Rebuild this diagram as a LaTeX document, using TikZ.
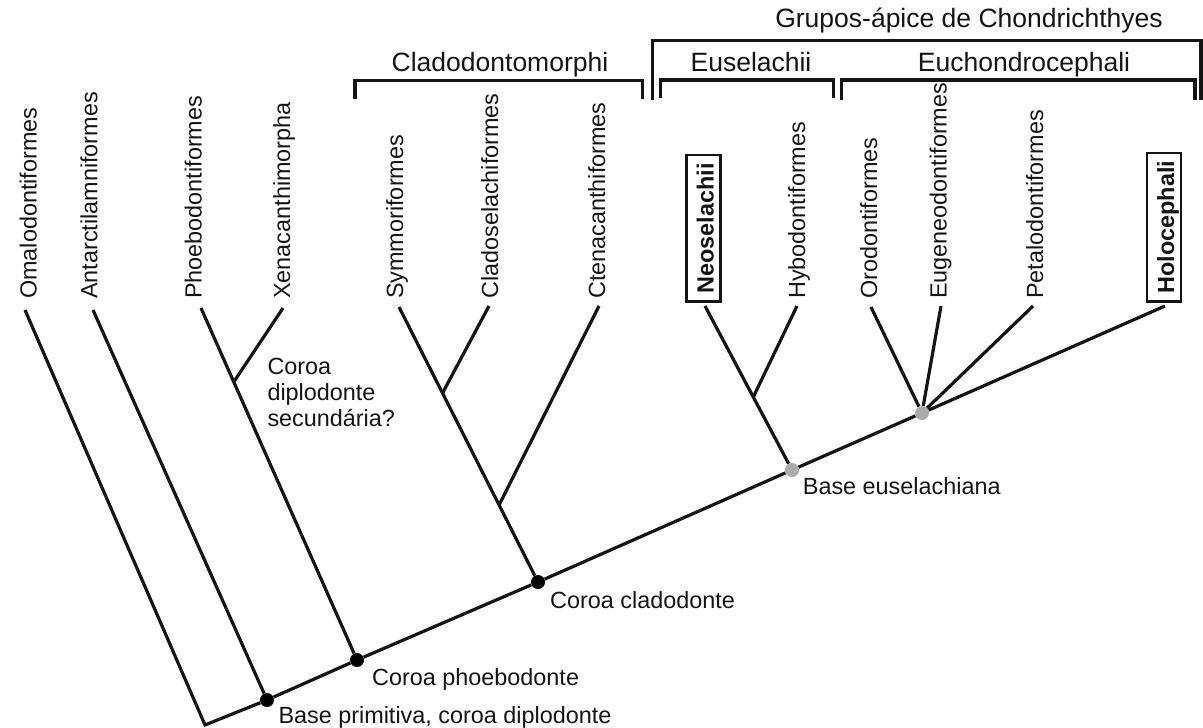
\documentclass[tikz,border=0pt]{standalone}
\usepackage{fontspec}
\setmainfont{Liberation Sans}
\usetikzlibrary{calc}
\definecolor{dotgray}{RGB}{170,170,170}
\definecolor{ink}{RGB}{20,20,20}
\begin{document}
\begin{tikzpicture}[x=1pt,y=-1pt,
  branch/.style={draw=ink, line width=3.2pt, line join=miter},
  brk/.style={draw=ink, line width=3.2pt, line join=miter},
  taxon/.style={rotate=90, anchor=base west, inner sep=0pt, text=ink, font=\fontsize{23.4}{26}\selectfont},
  boxtaxon/.style={rotate=90, anchor=base west, draw=ink, text=ink, line width=2.3pt, inner xsep=8pt, inner ysep=0pt, text height=27pt, text depth=7pt, font=\fontsize{23.4}{26}\selectfont\bfseries},
  note/.style={anchor=base west, inner sep=0pt, text=ink, font=\fontsize{23.4}{26}\selectfont},
  grp/.style={anchor=base, inner sep=0pt, text=ink, font=\fontsize{26.5}{30}\selectfont},
  bdot/.style={circle, fill=black, minimum size=14pt, inner sep=0pt},
  gdot/.style={circle, fill=dotgray, minimum size=14pt, inner sep=0pt}]
\useasboundingbox (0,0) rectangle (1203,728);

% tree vertices
\coordinate (root) at (205,725);
\node[bdot] (bp) at (267,700) {};
\node[bdot] (cp) at (357,660) {};
\node[bdot] (cc) at (538,582) {};
\node[gdot] (eu) at (792,470) {};
\node[gdot] (gr) at (922,413) {};

% branch tips
\coordinate (tOm) at (25,310);
\coordinate (tAn) at (93,310);
\coordinate (tPh) at (201,308);
\coordinate (tXe) at (283,308);
\coordinate (tSy) at (399,307);
\coordinate (tCl) at (489,306);
\coordinate (tCt) at (599,306);
\coordinate (tNe) at (705,306);
\coordinate (tHy) at (797,306);
\coordinate (tOr) at (871,307);
\coordinate (tEg) at (941,306);
\coordinate (tPe) at (1033,306);
\coordinate (tHo) at (1165,306);

% internal junctions
\coordinate (jX) at ($(tPh)!0.21!(cp)$);
\coordinate (jCt) at ($(cc)!0.28!(tSy)$);
\coordinate (jCl) at ($(cc)!0.687!(tSy)$);
\coordinate (jHy) at ($(eu)!0.445!(tNe)$);

% branches
\draw[branch] (tOm) -- (root) -- (bp) -- (cp) -- (cc) -- (eu) -- (gr) -- (tHo);
\draw[branch] (bp) -- (tAn);
\draw[branch] (cp) -- (tPh);
\draw[branch] (jX) -- (tXe);
\draw[branch] (cc) -- (tSy);
\draw[branch] (jCl) -- (tCl);
\draw[branch] (jCt) -- (tCt);
\draw[branch] (eu) -- (tNe);
\draw[branch] (jHy) -- (tHy);
\draw[branch] (gr) -- (tOr);
\draw[branch] (gr) -- (tEg);
\draw[branch] (gr) -- (tPe);

% taxon labels
\node[taxon] (lOm) at (36.7,299) {Omalodontiformes};
\node[taxon] (lAn) at (97.3,299) {Antarctilamniformes};
\node[taxon] (lPh) at (201.7,299) {Phoebodontiformes};
\node[taxon] (lXe) at (290,299) {Xenacanthimorpha};
\node[taxon] (lSy) at (403,299) {Symmoriformes};
\node[taxon] (lCl) at (498,299) {Cladoselachiformes};
\node[taxon] (lCt) at (605,299) {Ctenacanthiformes};
\node[boxtaxon] (lNe) at (713.5,302.5) {Neoselachii};
\node[taxon] (lHy) at (805,299) {Hybodontiformes};
\node[taxon] (lOr) at (877,299) {Orodontiformes};
\node[taxon] (lEg) at (946.6,299) {Eugeneodontiformes};
\node[taxon] (lPe) at (1043,299) {Petalodontiformes};
\node[boxtaxon] (lHo) at (1174,302.5) {Holocephali};

% node notes
\node[note] (nX1) at (267.3,374) {Coroa};
\node[note] (nX2) at (267.3,400) {diplodonte};
\node[note] (nX3) at (267.3,426) {secundária?};
\node[note] (nBp) at (278.3,723.3) {Base primitiva, coroa diplodonte};
\node[note] (nCp) at (372,685.5) {Coroa phoebodonte};
\node[note] (nCc) at (550,608.3) {Coroa cladodonte};
\node[note] (nEu) at (802.7,494) {Base euselachiana};

% group brackets
\coordinate (bClL) at (355,98.5);
\coordinate (bClR) at (642.7,98.5);
\draw[brk] (bClL) -- (bClL |- 0,80.7) -- (bClR |- 0,80.7) -- (bClR);
\node[grp] (gCl) at (500,71) {Cladodontomorphi};

\coordinate (bGrL) at (652.5,100);
\coordinate (bGrR) at (1201,100);
\draw[brk] (bGrL) -- (bGrL |- 0,40.5) -- (bGrR |- 0,40.5) -- (bGrR);
\node[grp] (gGr) at (969,27.5) {Grupos-ápice de Chondrichthyes};

\coordinate (bEsL) at (660.7,98);
\coordinate (bEsR) at (833.3,98);
\draw[brk] (bEsL) -- (bEsL |- 0,80) -- (bEsR |- 0,80) -- (bEsR);
\node[grp] (gEs) at (751,71) {Euselachii};

\coordinate (bEcL) at (841.7,100);
\coordinate (bEcR) at (1195,100);
\draw[brk] (bEcL) -- (bEcL |- 0,80) -- (bEcR |- 0,80) -- (bEcR);
\node[grp] (gEc) at (1024,71) {Euchondrocephali};
\end{tikzpicture}
\end{document}
